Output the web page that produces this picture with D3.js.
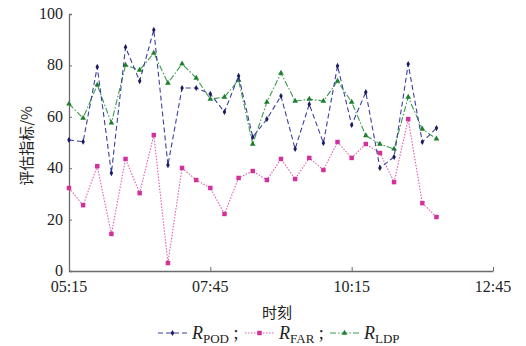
<!DOCTYPE html>
<html>
<head>
<meta charset="utf-8">
<script src="https://cdn.jsdelivr.net/npm/d3@7"></script>
<style>
body { margin: 0; background: #fff; }
</style>
</head>
<body>
<div id="chart-area"></div>
<script>
// data
var times = ["05:15","05:30","05:45","06:00","06:15","06:30","06:45","07:00","07:15","07:30","07:45","08:00","08:15","08:30",
             "08:45","09:00","09:15","09:30","09:45","10:00","10:15","10:30","10:45","11:00","11:15","11:30","11:45"];
var pod = [51, 50.3, 79.4, 38.1, 87.1, 73.9, 93.8, 41.2, 71.2, 71.2, 68.9, 61.9, 75.9, 52.1,
           59.1, 68.1, 47.5, 64.9, 49.8, 79.8, 56.8, 69.6, 40.1, 44.4, 80.5, 50.2, 55.6];
var far = [32.3, 25.6, 40.8, 14.4, 43.6, 30.3, 52.9, 3.1, 40.1, 35.4, 32.3, 22.2, 36.2, 38.9,
           35.4, 43.6, 35.8, 44, 39.3, 50.2, 44, 49.4, 45.9, 34.6, 59.1, 26.4, 21];
var ldp = [65, 59.5, 72.4, 57.6, 80.1, 78.2, 84.8, 73.1, 80.6, 75.1, 66.9, 67.7, 74.3, 49.4,
           65.7, 77, 66.1, 66.9, 66.1, 73.9, 65.7, 52.7, 49.4, 47.5, 67.7, 55.2, 51.4];
var xTicks = ["05:15","07:45","10:15","12:45"];
var yTicks = [0, 20, 40, 60, 80, 100];

var width = 526, height = 346;
var serif = "'Liberation Serif', 'Times New Roman', serif";
var cjk = "'Noto Sans CJK SC', sans-serif";
var parse = d3.timeParse("%H:%M");

var svg = d3.select("#chart-area").append("svg")
  .attr("width", width).attr("height", height);

var x = d3.scaleTime().domain([parse("05:15"), parse("12:45")]).range([69, 493]);
var y = d3.scaleLinear().domain([0, 100]).range([271, 14]);

var axisColor = "#6b6b6b";

// y axis (ticks inward)
var yAxis = svg.append("g").attr("transform", "translate(69,0)")
  .call(d3.axisRight(y).tickValues(yTicks).tickSize(3).tickFormat(""));
yAxis.select(".domain").attr("stroke", axisColor).attr("stroke-width", 1.3);
yAxis.selectAll(".tick line").attr("stroke", axisColor);

yTicks.forEach(function(t){
  svg.append("text")
    .attr("x", 63).attr("y", y(t) + 5)
    .attr("text-anchor", "end")
    .style("font-family", serif)
    .attr("font-size", "16px").attr("fill", "#222")
    .text(t);
});

// x axis (ticks inward)
var xAxis = svg.append("g").attr("transform", "translate(0,271)")
  .call(d3.axisTop(x).tickValues(xTicks.map(parse)).tickSize(4).tickSizeOuter(0).tickFormat(""));
xAxis.select(".domain").attr("stroke", axisColor).attr("stroke-width", 1.3);
xAxis.selectAll(".tick line").attr("stroke", axisColor);

xTicks.forEach(function(t){
  svg.append("text")
    .attr("x", x(parse(t))).attr("y", 292)
    .attr("text-anchor", "middle")
    .style("font-family", serif)
    .attr("font-size", "16px").attr("fill", "#222")
    .text(t);
});

svg.append("text")
  .attr("x", 277).attr("y", 318)
  .attr("text-anchor", "middle")
  .attr("font-size", "15px").attr("fill", "#222")
  .style("font-family", cjk)
  .text("时刻");

svg.append("text")
  .attr("transform", "translate(32,146) rotate(-90)")
  .attr("text-anchor", "middle")
  .attr("font-size", "15px").attr("fill", "#222")
  .style("font-family", cjk)
  .text("评估指标/%");

var series = [
  {key: "POD", vals: pod, line: "#3b3f9c", mark: "#1c1c66", dash: "5,3", shape: d3.symbolDiamond, size: 11},
  {key: "FAR", vals: far, line: "#e05fb0", mark: "#d4309c", dash: "1.5,1.5", shape: d3.symbolSquare, size: 20},
  {key: "LDP", vals: ldp, line: "#3a9a4e", mark: "#1f7f2f", dash: "6,2,1.5,2", shape: d3.symbolTriangle, size: 14}
];

var line = d3.line()
  .x(function(d, i){ return x(parse(times[i])); })
  .y(function(d){ return y(d); });

// draw FAR first, then LDP, then POD on top
[series[1], series[2], series[0]].forEach(function(s){
  svg.append("path")
    .attr("d", line(s.vals))
    .attr("fill", "none")
    .attr("stroke", s.line)
    .attr("stroke-width", 1.1)
    .attr("stroke-dasharray", s.dash);

  svg.selectAll(".m-" + s.key).data(s.vals).enter().append("path")
    .attr("class", "m-" + s.key)
    .attr("d", d3.symbol().type(s.shape).size(s.size))
    .attr("transform", function(d, i){ return "translate(" + x(parse(times[i])) + "," + y(d) + ")"; })
    .attr("fill", s.mark);
});

// legend
var legend = svg.append("g").attr("transform", "translate(0,333)");
var legendPos = [158, 245, 330];
series.forEach(function(s, i){
  var lx = legendPos[i];
  legend.append("line")
    .attr("x1", lx).attr("x2", lx + 29).attr("y1", 0).attr("y2", 0)
    .attr("stroke", s.line).attr("stroke-width", 1.1).attr("stroke-dasharray", s.dash);
  legend.append("path")
    .attr("d", d3.symbol().type(s.shape).size(s.size))
    .attr("transform", "translate(" + (lx + 14.5) + ",0)")
    .attr("fill", s.mark);
  var t = legend.append("text")
    .attr("x", lx + 34).attr("y", 6)
    .style("font-family", serif)
    .attr("font-size", "18px").attr("fill", "#222");
  t.append("tspan").style("font-style", "italic").text("R");
  t.append("tspan").attr("font-size", "13px").attr("dy", 4).text(s.key);
  if (i < 2) {
    t.append("tspan").attr("dy", -4).attr("font-size", "18px").text(" ;");
  }
});
</script>
</body>
</html>
